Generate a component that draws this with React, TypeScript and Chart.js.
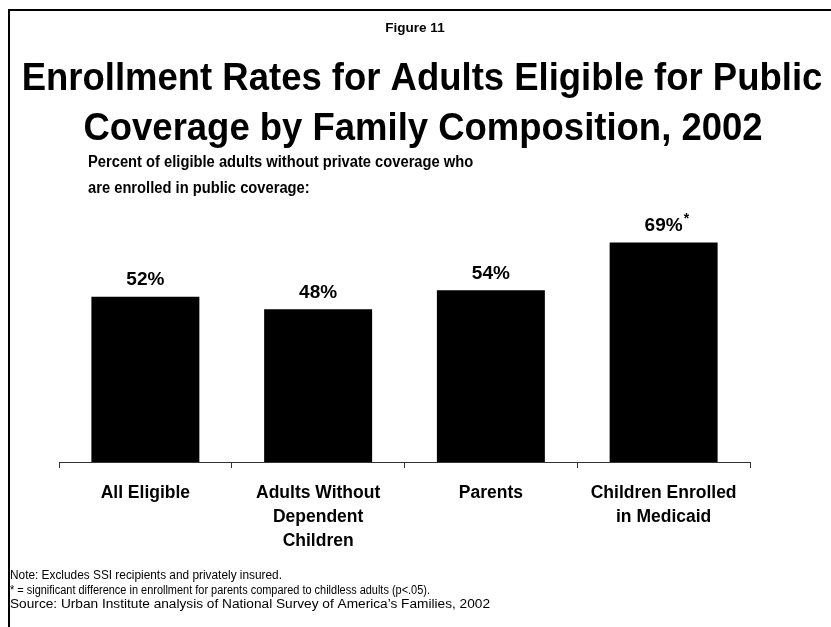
import React, { useEffect, useRef } from "react";
import { Chart, registerables } from "chart.js";

Chart.register(...registerables);

// ---- data ----
const categories: string[][] = [
  ["All Eligible"],
  ["Adults Without", "Dependent", "Children"],
  ["Parents"],
  ["Children Enrolled", "in Medicaid"],
];
const enrollmentRates: number[] = [52, 48, 54, 69];
const significantFlags: boolean[] = [false, false, false, true];
const figureLabel = "Figure 11";
const titleLines: string[] = [
  "Enrollment Rates for Adults Eligible for Public",
  "Coverage by Family Composition, 2002",
];
const subtitleLines: string[] = [
  "Percent of eligible adults without private coverage who",
  "are enrolled in public coverage:",
];
const noteLines: string[] = [
  "Note: Excludes SSI recipients and privately insured.",
  "* = significant difference in enrollment for parents compared to childless adults (p<.05).",
  "Source: Urban Institute analysis of National Survey of America\u2019s Families, 2002",
];

// ---- styles ----
const FAMILY = "'Liberation Sans', Arial, Helvetica, sans-serif";
const W = 831;
const H = 627;
const NOTE_WIDTHS = [272, 420, 480];

function drawText(
  ctx: CanvasRenderingContext2D,
  text: string,
  x: number,
  y: number,
  font: string,
  align: CanvasTextAlign,
  sx: number
) {
  ctx.save();
  ctx.font = font;
  ctx.fillStyle = "#000";
  ctx.textBaseline = "middle";
  ctx.textAlign = align;
  ctx.translate(x, y);
  ctx.scale(sx, 1);
  ctx.fillText(text, 0, 0);
  ctx.restore();
}

const decorPlugin = {
  id: "decor",
  afterDraw(chart: any) {
    const ctx: CanvasRenderingContext2D = chart.ctx;
    ctx.save();
    // frame
    ctx.fillStyle = "#000";
    ctx.fillRect(8, 9, 2, H - 9);
    ctx.fillRect(8, 9, W - 8, 2);

    drawText(ctx, figureLabel, 415, 28, `bold 13.5px ${FAMILY}`, "center", 1);
    drawText(ctx, titleLines[0], 422, 80, `bold 38px ${FAMILY}`, "center", 0.96);
    drawText(ctx, titleLines[1], 423, 130, `bold 38px ${FAMILY}`, "center", 0.96);
    drawText(ctx, subtitleLines[0], 88, 163, `bold 16px ${FAMILY}`, "left", 0.92);
    drawText(ctx, subtitleLines[1], 88, 189, `bold 16px ${FAMILY}`, "left", 0.92);
    noteLines.forEach((line, i) => {
      const font = `12px ${FAMILY}`;
      ctx.font = font;
      const natural = ctx.measureText(line).width;
      drawText(ctx, line, 10, 576 + i * 14.5, font, "left", NOTE_WIDTHS[i] / natural);
    });

    // value labels
    const meta = chart.getDatasetMeta(0);
    meta.data.forEach((bar: any, i: number) => {
      const label = `${enrollmentRates[i]}%`;
      const y = bar.y - 17;
      const font = `bold 19px ${FAMILY}`;
      drawText(ctx, label, bar.x, y, font, "center", 1);
      if (significantFlags[i]) {
        ctx.font = font;
        const w = ctx.measureText(label).width;
        drawText(ctx, "*", bar.x + w / 2 + 1, y - 6, `bold 14px ${FAMILY}`, "left", 1);
      }
    });
    ctx.restore();
  },
};

export default function App() {
  const canvasRef = useRef<HTMLCanvasElement | null>(null);

  useEffect(() => {
    const canvas = canvasRef.current;
    if (!canvas) return;
    const chart = new Chart(canvas, {
      type: "bar",
      data: {
        labels: categories as any,
        datasets: [
          {
            data: enrollmentRates,
            backgroundColor: "#000000",
            borderWidth: 0,
            barPercentage: 0.625,
            categoryPercentage: 1,
          },
        ],
      },
      options: {
        responsive: false,
        animation: false,
        devicePixelRatio: 1,
        layout: { padding: { left: 59, right: 81, top: 144, bottom: 0 } },
        plugins: {
          legend: { display: false },
          tooltip: { enabled: false },
          title: { display: false },
        },
        scales: {
          x: {
            grid: {
              offset: true,
              drawOnChartArea: false,
              drawTicks: true,
              tickLength: 6,
              color: "#333333",
              tickWidth: 1,
            },
            border: { color: "#333333", width: 1 },
            ticks: {
              color: "#000000",
              font: { family: FAMILY, size: 17.5, weight: "bold", lineHeight: 24 / 17.5 },
              padding: 13,
              maxRotation: 0,
              autoSkip: false,
            },
            afterFit: (s: any) => {
              s.height = 165;
            },
          },
          y: { display: false, min: 0, max: 100 },
        },
      },
      plugins: [decorPlugin],
    });
    return () => chart.destroy();
  }, []);

  return (
    <div style={{ position: "absolute", left: 0, top: 0, width: W, height: H, background: "#fff" }}>
      <canvas ref={canvasRef} width={W} height={H} style={{ display: "block", width: W, height: H }} />
    </div>
  );
}
